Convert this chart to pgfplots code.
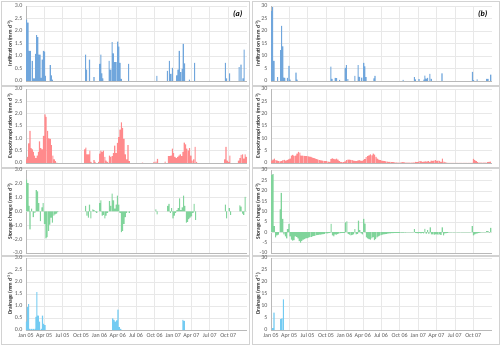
\documentclass[border=0pt]{standalone}
\usepackage{pgfplots}
\pgfplotsset{compat=1.18}
\usepackage{fontspec}
\setmainfont{Carlito}
\definecolor{infc}{RGB}{112,166,220}
\definecolor{etc}{RGB}{255,138,140}
\definecolor{stc}{RGB}{128,212,155}
\definecolor{drc}{RGB}{115,203,242}
\definecolor{gridc}{RGB}{232,232,232}
\definecolor{framec}{RGB}{210,210,210}
\definecolor{tickc}{RGB}{89,89,89}
\pgfplotsset{
  base/.style={
    scale only axis, width=221pt,
    xmin=0, xmax=1096,
    anchor=south west,
    xtick={0,90,181,273,365,455,546,638,730,820,911,1003},
    xticklabels={},
    xmajorgrids, ymajorgrids,
    major grid style={gridc, line width=0.4pt},
    axis x line*=bottom, axis y line*=left,
    axis line style={draw=gray!55, line width=0.4pt},
    major tick length=0pt,
    tick label style={font=\fontsize{6}{7}\selectfont, text=tickc},
    /pgf/number format/assume math mode=true,
    ybar, bar width=5.5, bar shift=0pt,
    clip=true,
  },
  lft/.style={ymin=0, ymax=3, ytick={0,0.5,1,1.5,2,2.5,3},
    yticklabel style={/pgf/number format/.cd, fixed, fixed zerofill, precision=1},
    every axis y label/.style={at={(rel axis cs:0,0.5)}, xshift=-16pt, rotate=90, anchor=center,
      font=\bfseries\fontsize{5.5}{6}\selectfont, text=black!85}},
  lfts/.style={ymin=-3, ymax=3, ytick={-3,-2,-1,0,1,2,3},
    yticklabel style={/pgf/number format/.cd, fixed, fixed zerofill, precision=1},
    extra y ticks={0}, extra y tick labels={}, extra y tick style={grid style={gray!55}},
    every axis y label/.style={at={(rel axis cs:0,0.5)}, xshift=-16pt, rotate=90, anchor=center,
      font=\bfseries\fontsize{5.5}{6}\selectfont, text=black!85}},
  rgt/.style={ymin=0, ymax=30, ytick={0,5,10,15,20,25,30},
    every axis y label/.style={at={(rel axis cs:0,0.5)}, xshift=-13pt, rotate=90, anchor=center,
      font=\bfseries\fontsize{5.5}{6}\selectfont, text=black!85}},
  rgts/.style={ymin=-10, ymax=30, ytick={-10,-5,0,5,10,15,20,25,30},
    extra y ticks={0}, extra y tick labels={}, extra y tick style={grid style={gray!55}},
    every axis y label/.style={at={(rel axis cs:0,0.5)}, xshift=-13pt, rotate=90, anchor=center,
      font=\bfseries\fontsize{5.5}{6}\selectfont, text=black!85}},
  bottomrow/.style={xticklabels={Jan 05,Apr 05,Jul 05,Oct 05,Jan 06,Apr 06,Jul 06,Oct 06,Jan 07,Apr 07,Jul 07,Oct 07},
    xticklabel style={font=\fontsize{6}{7}\selectfont, text=tickc}},
  barsI/.style={fill=infc, draw=none},
  barsE/.style={fill=etc, draw=none},
  barsS/.style={fill=stc, draw=none},
  barsD/.style={fill=drc, draw=none},
}
\begin{document}
\begin{tikzpicture}
\path[use as bounding box, fill=white] (0,0) rectangle (500pt,345pt);
% panel frames
\foreach \xa/\xb in {1/249, 252/499}{
  \foreach \ya/\yb in {260/344, 178/259, 90/177, 1/89}{
    \draw[framec, line width=0.5pt] (\xa pt,\ya pt) rectangle (\xb pt,\yb pt);
  }
}
% ---------------- Row 1: infiltration ----------------
\begin{axis}[base, lft, at={(26pt,264pt)}, height=75pt, ylabel={Infiltration (mm d\textsuperscript{-1})}]
\addplot[barsI] coordinates {(3,2.45)(10,2.33)(17,1.2)(21,1.2)(31,0.8)(37,0.1)(42,0.1)(48,1.08)(53,1.83)(59,1.75)(64,1.05)(70,1.05)(76,0.12)(80,0.85)(87,1.2)(92,1.17)(96,0.2)(120,0.63)(125,0.22)(130,0.05)(296,1.05)(300,0.45)(315,0.85)(337,0.15)(365,0.68)(371,1.05)(376,0.3)(381,0.1)(412,0.8)(419,0.45)(427,1.55)(433,1.1)(440,0.75)(447,0.75)(455,1.57)(460,1.37)(466,0.72)(473,0.08)(509,0.68)(649,0.2)(701,0.4)(711,0.8)(718,0.28)(726,0.52)(747,0.22)(754,0.45)(760,1.2)(767,0.35)(775,0.48)(780,1.48)(787,0.7)(810,0.05)(836,0.72)(989,0.72)(995,0.1)(1010,0.3)(1057,0.55)(1066,0.65)(1076,0.1)(1082,1.25)};
\node[anchor=north east, font=\bfseries\itshape\fontsize{8}{9}\selectfont] at (rel axis cs:0.995,0.99) {(a)};
\end{axis}
\begin{axis}[base, rgt, at={(271pt,264pt)}, height=75pt, ylabel={Infiltration (mm d\textsuperscript{-1})}]
\addplot[barsI] coordinates {(3,28)(8,29.5)(15,8)(33,1.5)(48,12.3)(53,22)(58,13.8)(63,1.3)(68,1.2)(81,1.2)(89,6)(94,0.5)(124,3.3)(129,0.5)(297,5.7)(303,0.8)(318,1.2)(325,1.1)(340,0.4)(368,5.2)(374,6.3)(381,0.7)(416,2)(432,6.3)(439,1.6)(450,1.3)(460,7.2)(465,5.8)(472,1.5)(510,1)(516,2)(655,0.4)(711,1.5)(716,0.6)(734,0.7)(759,0.5)(763,2.1)(770,0.9)(777,1.2)(788,2.8)(795,0.8)(848,3.0)(999,3.6)(1004,0.3)(1022,0.6)(1070,0.8)(1077,0.8)(1090,2.5)};
\node[anchor=north east, font=\bfseries\itshape\fontsize{8}{9}\selectfont] at (rel axis cs:0.995,0.99) {(b)};
\end{axis}
% ---------------- Row 2: evapotranspiration ----------------
\begin{axis}[base, lft, at={(26pt,182pt)}, height=74pt, ylabel={Evapotranspiration (mm d\textsuperscript{-1})}]
\addplot[barsE] coordinates {(2,0.15)(8,0.25)(13,0.8)(20,1.3)(25,0.6)(31,0.55)(36,0.45)(43,0.3)(49,0.2)(56,0.3)(62,0.45)(67,0.88)(74,0.6)(80,0.55)(87,1.1)(94,1.97)(100,1.87)(107,1.3)(113,1.0)(120,0.98)(126,0.72)(133,0.3)(140,0.15)(146,0.08)(153,0.02)(291,0.55)(297,0.62)(304,0.35)(310,0.35)(317,0.5)(323,0.05)(337,0.12)(343,0.05)(360,0.05)(365,0.38)(371,0.5)(378,0.45)(384,0.5)(391,0.25)(397,0.1)(404,0.05)(414,0.3)(420,0.25)(427,0.28)(434,0.4)(440,0.7)(447,0.4)(453,0.82)(460,1.05)(466,1.35)(473,1.65)(479,1.42)(486,0.98)(493,0.35)(499,0.15)(506,0.72)(512,0.08)(578,0.02)(635,0.05)(644,0.06)(652,0.17)(690,0.06)(706,0.28)(713,0.28)(719,0.3)(726,0.58)(732,0.4)(739,0.25)(745,0.2)(752,0.25)(759,0.3)(765,0.35)(772,0.28)(778,0.45)(785,0.83)(791,0.75)(798,0.58)(805,0.5)(811,0.6)(818,0.3)(824,0.1)(831,0.15)(839,0.65)(846,0.05)(985,0.15)(992,0.65)(998,0.1)(1005,0.05)(1011,0.3)(1054,0.1)(1061,0.2)(1067,0.33)(1074,0.35)(1080,0.18)(1087,0.35)(1092,0.25)};
\end{axis}
\begin{axis}[base, rgt, at={(271pt,182pt)}, height=74pt, ylabel={Evapotranspiration (mm d\textsuperscript{-1})}]
\addplot[barsE] coordinates {(3,1.0)(10,1.4)(17,1.8)(24,1.2)(31,1.0)(38,0.8)(45,0.7)(52,0.8)(59,1.2)(66,1.3)(73,1.0)(80,1.2)(87,1.5)(94,1.8)(101,3.0)(108,3.3)(115,2.9)(122,3.0)(129,3.8)(136,4.5)(143,4.2)(150,3.0)(157,3.0)(164,2.9)(171,2.8)(178,2.8)(185,2.7)(192,2.6)(199,2.5)(206,2.2)(213,2.0)(220,1.8)(227,1.6)(234,1.4)(241,1.2)(248,1.1)(255,1.0)(262,0.9)(269,0.8)(276,0.8)(283,0.6)(290,0.5)(297,1.6)(304,1.9)(311,1.7)(318,1.5)(325,1.8)(332,1.4)(339,0.8)(346,0.5)(353,0.4)(360,0.4)(367,0.7)(374,1.2)(381,1.4)(388,1.4)(395,1.3)(402,1.2)(409,1.0)(416,0.9)(423,0.8)(430,1.0)(437,1.2)(444,1.0)(451,0.9)(458,1.3)(465,1.6)(472,2.4)(479,2.8)(486,3.1)(493,3.5)(500,3.1)(507,3.8)(514,3.4)(521,2.5)(528,1.8)(535,1.4)(542,1.2)(549,1.0)(556,0.9)(563,0.8)(570,0.7)(577,0.6)(584,0.5)(591,0.45)(598,0.4)(605,0.35)(612,0.3)(619,0.25)(626,0.2)(633,0.2)(640,0.2)(647,0.3)(654,0.4)(661,0.3)(668,0.2)(675,0.15)(682,0.15)(689,0.15)(696,0.2)(703,0.2)(710,0.3)(717,0.5)(724,0.4)(731,0.6)(738,0.8)(745,0.7)(752,0.5)(759,0.6)(766,0.7)(773,0.6)(780,0.8)(787,0.5)(794,1.0)(801,0.9)(808,1.0)(815,1.2)(822,0.9)(829,1.0)(836,0.9)(843,0.5)(850,1.8)(857,0.6)(864,0.3)(871,0.2)(878,0.1)(885,0.1)(892,0.1)(899,0.1)(906,0.1)(913,0.1)(920,0.1)(927,0.1)(934,0.1)(941,0.1)(948,0.1)(955,0.1)(962,0.1)(969,0.1)(976,0.1)(983,0.1)(990,0.1)(997,0.1)(1004,1.7)(1011,1.2)(1018,0.8)(1025,0.4)(1032,0.2)(1039,0.15)(1046,0.15)(1053,0.15)(1060,0.15)(1067,0.15)(1074,0.4)(1081,0.5)(1088,0.6)};
\end{axis}
% ---------------- Row 3: storage change ----------------
\begin{axis}[base, lfts, at={(26pt,92pt)}, height=83pt, ylabel={Storage change (mm d\textsuperscript{-1})}]
\addplot[barsS] coordinates {(3,2.3)(10,2.05)(15,0.4)(20,-1.3)(28,0.2)(36,-0.4)(44,-0.1)(51,1.55)(57,1.45)(64,0.6)(71,-0.7)(79,0.3)(85,0.6)(92,-0.9)(99,-1.95)(105,-1.85)(112,-1.4)(118,-0.95)(125,-0.45)(131,-0.8)(138,-0.3)(144,-0.2)(151,-0.15)(158,-0.05)(296,0.4)(302,-0.3)(309,-0.45)(315,0.5)(322,-0.5)(332,0.15)(338,0.1)(345,-0.05)(351,-0.1)(365,0.6)(371,0.8)(378,-0.3)(384,-0.25)(391,-0.5)(397,-0.3)(404,-0.1)(414,0.75)(420,0.4)(427,1.3)(434,0.8)(440,0.2)(447,0.5)(453,1.15)(460,0.5)(466,-0.1)(473,-1.5)(479,-1.4)(486,-0.9)(493,-0.4)(499,-0.1)(512,-0.1)(644,0.15)(650,-0.2)(703,0.4)(709,0.55)(716,-0.1)(722,0.25)(729,-0.5)(736,-0.3)(742,-0.1)(749,0.1)(755,0.25)(762,0.95)(768,0.1)(775,0.3)(782,1.15)(788,0.4)(795,-0.8)(801,-0.75)(808,-0.55)(814,-0.45)(821,-0.35)(828,-0.1)(834,0.55)(841,-0.6)(989,0.5)(995,-0.5)(1008,0.25)(1015,-0.25)(1061,0.45)(1067,0.35)(1074,-0.15)(1080,-0.25)(1087,1.05)};
\end{axis}
\begin{axis}[base, rgts, at={(271pt,92pt)}, height=83pt, ylabel={Storage change (mm d\textsuperscript{-1})}]
\addplot[barsS] coordinates {(3,27.5)(10,28)(16,3)(23,-2.5)(30,-1.5)(36,-1.2)(46,11)(51,19)(58,6.5)(64,-1)(71,-2)(78,-3)(82,1.5)(89,4)(94,-2)(101,-3.5)(107,-4)(114,-3.8)(120,-2)(127,-2.2)(134,-3)(140,-4.3)(147,-5)(153,-4.2)(160,-3.5)(167,-3.3)(173,-3)(180,-2.8)(186,-2.6)(193,-2.4)(200,-2.2)(206,-2.0)(213,-1.8)(219,-1.6)(226,-1.4)(233,-1.3)(239,-1.2)(246,-1.1)(252,-1.0)(259,-0.9)(265,-0.8)(272,-0.6)(279,-0.5)(285,-0.4)(292,-0.3)(298,4.0)(305,-1.5)(312,-2)(318,-1)(325,-1.2)(331,-0.8)(338,-0.5)(345,-0.4)(351,-0.3)(358,-0.3)(364,-0.3)(369,4.8)(376,5.3)(383,-0.8)(389,-1.2)(396,-1.5)(402,-1.3)(409,-1.0)(416,1.5)(422,-1)(429,-0.8)(434,5.6)(440,1.0)(447,-0.5)(453,-1.0)(460,6.4)(467,4.1)(473,-2.5)(480,-3.0)(486,-3.3)(493,-3.5)(500,-3.0)(506,-2.3)(513,-3.8)(519,-3.2)(526,-2.5)(533,-2.0)(539,-1.6)(546,-1.4)(552,-1.2)(559,-1.0)(566,-0.9)(572,-0.8)(579,-0.7)(585,-0.6)(592,-0.5)(599,-0.45)(605,-0.4)(612,-0.35)(618,-0.3)(625,-0.3)(632,-0.25)(638,-0.25)(645,-0.2)(651,-0.2)(658,-0.15)(665,-0.15)(671,-0.1)(678,-0.1)(685,-0.1)(691,-0.1)(698,-0.1)(704,-0.1)(711,1.5)(717,-0.3)(724,-0.4)(731,-0.5)(737,-0.3)(744,-0.6)(750,-0.3)(757,-0.5)(763,1.6)(770,-0.7)(777,1.0)(783,-0.8)(790,2.3)(796,-1.0)(803,-1.0)(810,-1.2)(816,-1.0)(823,-1.0)(829,-1.2)(836,-1.0)(843,-1.3)(849,2.3)(856,-1.5)(862,-0.5)(869,-0.4)(876,-0.3)(882,-0.1)(889,-0.1)(896,-0.1)(903,-0.1)(910,-0.1)(917,-0.1)(924,-0.1)(931,-0.1)(938,-0.1)(945,-0.1)(952,-0.1)(959,-0.1)(966,-0.1)(973,-0.1)(980,-0.1)(987,-0.1)(998,3.0)(1004,-1.5)(1011,-1.0)(1017,-0.7)(1024,-0.5)(1031,-0.3)(1037,-0.2)(1044,-0.1)(1050,-0.1)(1057,-0.1)(1063,-0.1)(1070,0.5)(1077,0.5)(1083,-0.2)(1090,2.1)};
\end{axis}
% ---------------- Row 4: drainage ----------------
\begin{axis}[base, lft, bottomrow, at={(26pt,15pt)}, height=72pt, ylabel={Drainage (mm d\textsuperscript{-1})}]
\addplot[barsD] coordinates {(2,0.35)(7,0.95)(13,1.08)(20,0.05)(28,0.05)(36,0.05)(44,0.05)(49,0.55)(54,1.58)(61,0.6)(67,0.35)(76,0.05)(82,0.6)(87,0.25)(94,0.2)(430,0.48)(437,0.42)(443,0.35)(450,0.4)(456,0.85)(463,0.12)(470,0.05)(778,0.42)(785,0.38)};
\end{axis}
\begin{axis}[base, rgt, bottomrow, at={(271pt,15pt)}, height=72pt, ylabel={Drainage (mm d\textsuperscript{-1})}]
\addplot[barsD] coordinates {(8,0.8)(15,7.2)(48,4.5)(54,4.8)(61,12.8)};
\end{axis}
\end{tikzpicture}
\end{document}
